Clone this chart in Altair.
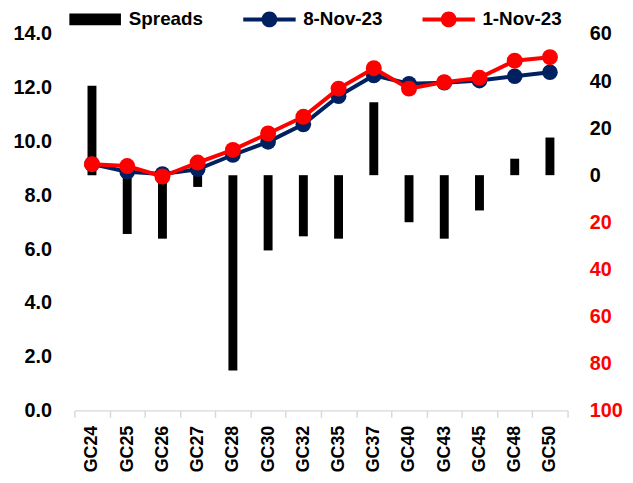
import altair as alt
import pandas as pd

categories = ["GC24", "GC25", "GC26", "GC27", "GC28", "GC30", "GC32",
              "GC35", "GC37", "GC40", "GC43", "GC45", "GC48", "GC50"]
nov8 = [9.16, 8.88, 8.79, 8.97, 9.50, 9.99, 10.64, 11.69, 12.46, 12.15, 12.19, 12.27, 12.43, 12.58]
nov1 = [9.16, 9.09, 8.70, 9.22, 9.69, 10.30, 10.92, 11.97, 12.73, 11.97, 12.21, 12.37, 13.01, 13.14]
spreads = [38, -25, -27, -5, -83, -32, -26, -27, 31, -20, -27, -15, 7, 16]
series_names = ["Spreads", "8-Nov-23", "1-Nov-23"]
series_colors = ["#000000", "#002060", "#ff0000"]
left_ticks = [0, 2, 4, 6, 8, 10, 12, 14]
right_ticks = [-100, -80, -60, -40, -20, 0, 20, 40, 60]

df = pd.DataFrame({"bond": categories, "nov8": nov8, "nov1": nov1, "spread": spreads})
legend_df = pd.DataFrame({"series": series_names})

FONT = "Liberation Sans"

x_enc = alt.X(
    "bond:N", sort=categories, title=None,
    scale=alt.Scale(paddingInner=0, paddingOuter=0),
    axis=alt.Axis(labelAngle=270, labelFont=FONT, labelFontSize=18, labelFontWeight="bold",
                  labelColor="#000000", labelPadding=8, domainColor="#d9d9d9", domainWidth=1.5,
                  tickColor="#d9d9d9", tickWidth=1.5, tickSize=7, tickBand="extent", grid=False),
)

bars = alt.Chart(df).mark_bar(size=9, color="#000000").encode(
    x=x_enc,
    y=alt.Y("spread:Q", title=None,
            scale=alt.Scale(domain=[-100, 60], nice=False, zero=True),
            axis=alt.Axis(orient="right", values=right_ticks, labelExpr="format(abs(datum.value), 'd')",
                          labelFont=FONT, labelFontSize=20, labelFontWeight="bold",
                          labelColor={"condition": {"test": "datum.value < 0", "value": "#ff0000"},
                                      "value": "#000000"},
                          labelPadding=22, domain=False, ticks=False, grid=False)),
)

left_y_axis = alt.Axis(values=left_ticks, format=".1f", labelFont=FONT, labelFontSize=20,
                       labelFontWeight="bold", labelColor="#000000", labelPadding=23,
                       domain=False, ticks=False, grid=False, orient="left")
left_scale = alt.Scale(domain=[0, 14], nice=False)

navy = alt.Chart(df).mark_line(color=series_colors[1], strokeWidth=4,
                               point=alt.OverlayMarkDef(color=series_colors[1], size=250, filled=True)).encode(
    x=alt.X("bond:N", sort=categories),
    y=alt.Y("nov8:Q", title=None, scale=left_scale, axis=left_y_axis),
)
red = alt.Chart(df).mark_line(color=series_colors[2], strokeWidth=4,
                              point=alt.OverlayMarkDef(color=series_colors[2], size=260, filled=True)).encode(
    x=alt.X("bond:N", sort=categories),
    y=alt.Y("nov1:Q", title=None, scale=left_scale, axis=left_y_axis),
)

# legend symbols (unit = 10.5 px for symbolSize 441)
rect_path = "M-2.48,-0.57 L2.48,-0.57 L2.48,0.57 L-2.48,0.57 Z"
line_circle = ("M-2.52,-0.19 L2.52,-0.19 L2.52,0.19 L-2.52,0.19 Z "
               "M0.76,0 A0.76,0.76 0 1,1 -0.76,0 A0.76,0.76 0 1,1 0.76,0 Z")

legend_layer = alt.Chart(legend_df).mark_point(filled=True, opacity=1).encode(
    color=alt.Color("series:N", sort=series_names,
                    scale=alt.Scale(domain=series_names, range=series_colors),
                    legend=alt.Legend(title=None, orient="none", direction="horizontal",
                                      legendX=10.5, legendY=-25.5, symbolSize=441,
                                      symbolStrokeWidth=0, labelFont=FONT, labelFontSize=19,
                                      labelFontWeight="bold", labelColor="#000000",
                                      labelOffset=23.5, columnPadding=40, padding=0)),
    shape=alt.Shape("series:N", sort=series_names,
                    scale=alt.Scale(domain=series_names, range=[rect_path, line_circle, line_circle]),
                    legend=None),
).transform_filter("false")

chart = alt.layer(
    bars,
    alt.layer(navy, red),
    legend_layer,
).resolve_scale(y="independent").properties(
    width=498, height=380,
    autosize=alt.AutoSizeParams(type="none"),
    padding={"left": 67, "top": 24, "right": 58, "bottom": 68},
).configure_view(stroke=None)

chart.save("out.html", embed_options={"renderer": "svg", "actions": False})
